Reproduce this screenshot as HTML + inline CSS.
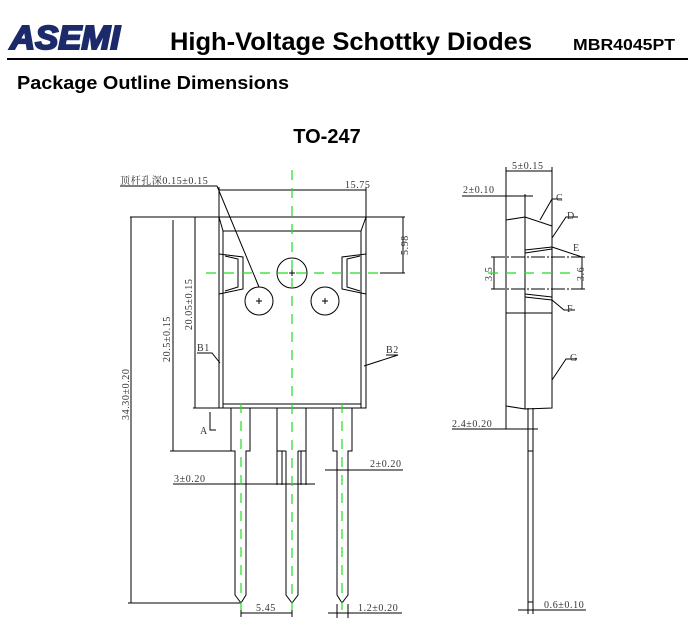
<!DOCTYPE html>
<html><head><meta charset="utf-8"><style>
body{margin:0;background:#fff;width:700px;height:642px;overflow:hidden}
svg{display:block}
.d{font-family:"Liberation Serif","Noto Serif CJK SC",serif;font-size:10px;fill:#333;letter-spacing:0.6px}
</style></head><body>
<svg width="700" height="642" viewBox="0 0 700 642" xmlns="http://www.w3.org/2000/svg">
<text x="10" y="49" font-family="Liberation Sans,sans-serif" font-weight="bold" font-style="italic" font-size="33" fill="#1c2a6b" stroke="#1c2a6b" stroke-width="2" textLength="110" lengthAdjust="spacingAndGlyphs">ASEMI</text>
<text x="170" y="50" font-family="Liberation Sans,sans-serif" font-weight="bold" font-size="25" fill="#000" textLength="362" lengthAdjust="spacingAndGlyphs">High-Voltage Schottky Diodes</text>
<text x="573" y="50" font-family="Liberation Sans,sans-serif" font-weight="bold" font-size="16" fill="#000" textLength="102" lengthAdjust="spacingAndGlyphs">MBR4045PT</text>
<rect x="7" y="58" width="681" height="2" fill="#000"/>
<text x="17" y="89" font-family="Liberation Sans,sans-serif" font-weight="bold" font-size="18" fill="#000" textLength="272" lengthAdjust="spacingAndGlyphs">Package Outline Dimensions</text>
<text x="327" y="143" text-anchor="middle" font-family="Liberation Sans,sans-serif" font-weight="bold" font-size="20" fill="#000">TO-247</text>

<g stroke="#000" stroke-width="1" fill="none">
<rect x="219" y="217" width="147" height="191"/>
<path d="M223 231V408M361 231V408M223 231H361M219 217L223 231M366 217L361 231M223 404H361"/>
<path d="M219 254L243 257V289L219 294M225 256L238 259V287L225 291"/>
<path d="M366 254L342 257V289L366 294M360 256L347 259V287L360 291"/>
<circle cx="292" cy="273" r="15"/><circle cx="259" cy="301" r="14"/><circle cx="325" cy="301" r="14"/>
<path d="M289 273h6M292 270v6M256 301h6M259 298v6M322 301h6M325 298v6"/>
<path d="M231 408V451H235V595L241 603L246 595V451H250V408"/>
<path d="M277 408V485M306 408V485M277 451H286M306 451H298M282 451V485M301 451V485M286 451V595L292 603L298 595V451"/>
<path d="M333 408V451H337V595L342 603L348 595V451H352V408"/>
<path d="M120 186H217L259 287M219 217V187M366 217V187M219 190H366"/>
<path d="M130 217H405M403 217V273M380 273H405"/>
<path d="M131 217V603M128 603H241M173 220V451M170 451H232M195 217V408M193 408H219"/>
<path d="M197 353H212L220 363M386 355H398L364 366M210 412V430H216"/>
<path d="M173 484H315M325 470H403M337 458V475M348 458V475M241 604V617M292 604V617M241 613H292M328 613H402M337 604V618M348 604V618"/>
<path d="M506 220L525 217L552 226V408L525 409L506 406ZM525 194V409M506 313H552"/>
<path d="M525 250L552 247M525 253L552 249M525 294L552 297M525 297L552 300"/>
<path d="M491 257H585M491 289H585" stroke-dasharray="14 2 2 2"/>
<path d="M494 257V289M582 257V289M506 220V167M552 226V167M506 171H552M462 196H533"/>
<path d="M540 220L552 199H562M552 238L566 217H578M552 247L582 257M552 300L564 310H575M552 380L566 359H577"/>
<path d="M528 408V602H533V408M528 451H533M452 429H538M506 406V429M518 610H586M528 602V614M533 602V614"/>
</g>
<g stroke="#22dd22" stroke-width="1.2" fill="none" stroke-dasharray="10 8">
<path d="M292 170V610M206 273H380M241 403V610M342 403V610M488 273H570"/>
</g>
<g class="d">
<text x="120" y="184">顶杆孔深0.15±0.15</text>
<text x="345" y="188">15.75</text>
<text x="408" y="255" transform="rotate(-90 408 255)">5.98</text>
<text x="129" y="420" transform="rotate(-90 129 420)">34.30±0.20</text>
<text x="170" y="362" transform="rotate(-90 170 362)">20.5±0.15</text>
<text x="192" y="330" transform="rotate(-90 192 330)">20.05±0.15</text>
<text x="197" y="351">B1</text><text x="386" y="353">B2</text>
<text x="200" y="434">A</text>
<text x="174" y="482">3±0.20</text>
<text x="370" y="467">2±0.20</text>
<text x="256" y="611">5.45</text>
<text x="358" y="611">1.2±0.20</text>
<text x="512" y="169">5±0.15</text>
<text x="463" y="193">2±0.10</text>
<text x="492" y="281" transform="rotate(-90 492 281)">3.5</text>
<text x="584" y="281" transform="rotate(-90 584 281)">3.6</text>
<text x="556" y="201">C</text><text x="567" y="219">D</text><text x="573" y="251">E</text><text x="567" y="312">F</text><text x="570" y="361">G</text>
<text x="452" y="427">2.4±0.20</text>
<text x="544" y="608">0.6±0.10</text>
</g>
</svg>
</body></html>
